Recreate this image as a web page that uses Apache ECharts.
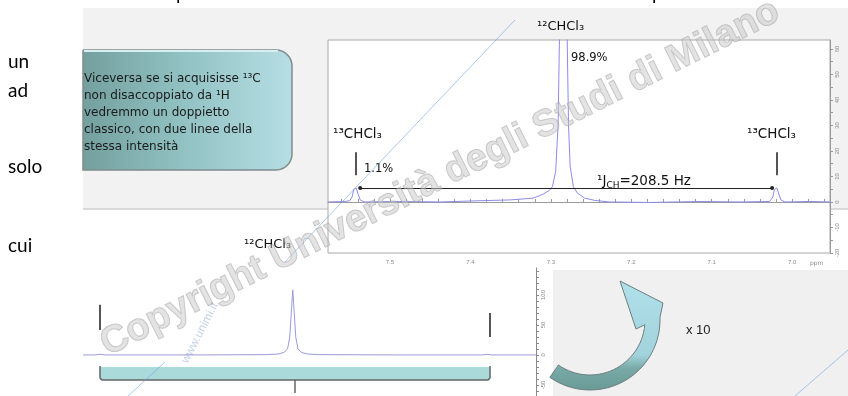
<!DOCTYPE html>
<html>
<head>
<meta charset="utf-8">
<script src="https://cdn.jsdelivr.net/npm/echarts@6/dist/echarts.min.js"></script>
<style>
  html, body { margin: 0; padding: 0; background: #ffffff; }
  #chart { width: 848px; height: 396px; }
</style>
</head>
<body>
<div id="chart"></div>
<script>
// 1H spectrum of CHCl3, vertical expansion: main 12CHCl3 line with the two 13C satellites
const topShift = [7.577, 7.556, 7.550, 7.547, 7.545, 7.542, 7.540, 7.537, 7.532, 7.488,
  7.438, 7.388, 7.351, 7.322, 7.310, 7.302, 7.298, 7.294, 7.291, 7.289,
  7.2845, 7.280, 7.278, 7.276, 7.272, 7.267, 7.258, 7.245, 7.227, 7.177,
  7.115, 7.065, 7.028, 7.024, 7.022, 7.019, 7.017, 7.014, 7.009, 6.978, 6.953];
const topIntensity = [0, 0.02, 0.05, 0.2, 0.5, 0.55, 0.35, 0.08, 0, 0.02,
  0, 0.05, 0.08, 0.15, 0.3, 0.45, 0.6, 1.2, 3, 7,
  40, 7, 3, 1.4, 0.6, 0.35, 0.15, 0.06, 0, -0.02,
  0.02, 0, 0.02, 0.2, 0.5, 0.55, 0.35, 0.08, 0, 0.02, 0];

// Same spectrum at full scale (satellites hardly visible)
const bottomShift = [7.567, 7.550, 7.544, 7.538, 7.40, 7.32, 7.305, 7.297, 7.292, 7.289,
  7.287, 7.285, 7.283, 7.281, 7.278, 7.273, 7.265, 7.25, 7.15, 7.030, 7.024, 7.018, 6.958];
const bottomIntensity = [0, 0, 0.024, 0, 0, 0.01, 0.03, 0.08, 0.2, 0.6,
  1.4, 2.17, 1.4, 0.6, 0.2, 0.08, 0.03, 0.01, 0, 0, 0.024, 0, 0];

// Axis ticks and labels
const shiftLabels = [7.5, 7.4, 7.3, 7.2, 7.1, 7.0];
const shiftTicks = [6.96, 6.98, 7.0, 7.02, 7.04, 7.06, 7.08, 7.1, 7.12, 7.14, 7.16, 7.18, 7.2,
  7.22, 7.24, 7.26, 7.28, 7.3, 7.32, 7.34, 7.36, 7.38, 7.4, 7.42, 7.44, 7.46, 7.48, 7.5,
  7.52, 7.54, 7.56];
const topIntensityLabels = [-2, -1, 0, 1, 2, 3, 4, 5, 6];
const topIntensityTicks = [-2, -1.5, -1, -0.5, 0, 0.5, 1, 1.5, 2, 2.5, 3, 3.5, 4, 4.5, 5, 5.5, 6];
const bottomIntensityLabels = [-1, 0, 1, 2];
const bottomIntensityTicks = [-1.2, -1, -0.8, -0.6, -0.4, -0.2, 0, 0.2, 0.4, 0.6, 0.8, 1, 1.2,
  1.4, 1.6, 1.8, 2, 2.2, 2.4, 2.6, 2.8];

// Satellite positions (ppm) and the coupling constant annotation
const satelliteShifts = [7.543, 7.019];
const couplingText = '=208.5 Hz';

const specColor = '#8c8ce6';
const labelFont = '"DejaVu Sans", "Liberation Sans", sans-serif';
const slideFont = 'Lato, "Open Sans", sans-serif';

const topData = topShift.map((s, i) => [s, topIntensity[i]]);
const bottomData = bottomShift.map((s, i) => [s, bottomIntensity[i]]);

// Outline of the curved "x 10" arrow: a ring segment ending in a head
function arrowOutline() {
  const cx = 590, cy = 320, ro = 70, ri = 55;
  const pts = [];
  for (let a = 125; a >= -2; a -= 4) {
    const r = a * Math.PI / 180;
    pts.push([cx + ro * Math.cos(r), cy + ro * Math.sin(r)]);
  }
  pts.push([cx + ro * Math.cos(-2 * Math.PI / 180), cy + ro * Math.sin(-2 * Math.PI / 180)]);
  pts.push([663, 303], [620, 281], [636, 329]);
  for (let a = 5; a <= 125; a += 4) {
    const r = a * Math.PI / 180;
    pts.push([cx + ri * Math.cos(r), cy + ri * Math.sin(r)]);
  }
  pts.push([cx + ri * Math.cos(125 * Math.PI / 180), cy + ri * Math.sin(125 * Math.PI / 180)]);
  return pts;
}

const chart = echarts.init(document.getElementById('chart'), null, { renderer: 'canvas' });

function txt(x, y, text, opts) {
  return {
    type: 'text', x: x, y: y, z: 20, silent: true,
    style: Object.assign({
      text: text, fill: '#111', fontSize: 11, fontFamily: labelFont,
      align: 'left', verticalAlign: 'middle'
    }, opts || {})
  };
}

const option = {
  animation: false,
  backgroundColor: '#ffffff',
  grid: [
    { left: 328, top: 40, right: 18, bottom: 143, show: true, backgroundColor: '#ffffff',
      borderColor: '#a8a8a8', borderWidth: 1 },
    { left: 83, top: 268, right: 312, bottom: 0, show: false }
  ],
  xAxis: [
    {
      gridIndex: 0, type: 'value', inverse: true, min: 6.953, max: 7.577,
      axisLine: { show: true, lineStyle: { color: '#9a9a9a', width: 1 } },
      axisTick: { show: true, inside: true, length: 3, customValues: shiftTicks,
        lineStyle: { color: '#9a9a9a' } },
      axisLabel: { show: true, customValues: shiftLabels, fontSize: 6, color: '#8a8a8a',
        margin: 6, formatter: v => v.toFixed(1) },
      splitLine: { show: false }
    },
    {
      gridIndex: 1, type: 'value', inverse: true, min: 6.958, max: 7.567, show: false
    }
  ],
  yAxis: [
    {
      gridIndex: 0, type: 'value', position: 'right', min: -2, max: 6.35,
      axisLine: { show: true, lineStyle: { color: '#9a9a9a' } },
      axisTick: { show: true, length: 3, customValues: topIntensityTicks,
        lineStyle: { color: '#9a9a9a' } },
      axisLabel: { show: true, customValues: topIntensityLabels, fontSize: 6, color: '#8a8a8a',
        rotate: 90, margin: 4, formatter: v => String(v * 10) },
      splitLine: { show: false }
    },
    {
      gridIndex: 1, type: 'value', position: 'right', min: -1.37, max: 2.9,
      axisLine: { show: true, lineStyle: { color: '#8a8a8a' } },
      axisTick: { show: true, length: 3, customValues: bottomIntensityTicks,
        lineStyle: { color: '#8a8a8a' } },
      axisLabel: { show: true, customValues: bottomIntensityLabels, fontSize: 6, color: '#8a8a8a',
        rotate: 90, margin: 4, formatter: v => String(v * 50) },
      splitLine: { show: false }
    }
  ],
  series: [
    {
      type: 'line', xAxisIndex: 0, yAxisIndex: 0, data: topData, showSymbol: false,
      clip: true, z: 3,
      lineStyle: { color: specColor, width: 1 },
      markLine: {
        silent: true, symbol: 'none', animation: false,
        label: { show: false },
        lineStyle: { color: '#555555', width: 2, type: 'solid' },
        data: [
          [{ coord: [satelliteShifts[0], 1.05] }, { coord: [satelliteShifts[0], 1.95] }],
          [{ coord: [satelliteShifts[1], 1.05] }, { coord: [satelliteShifts[1], 1.95] }],
          [
            { coord: [7.537, 0.55], symbol: 'circle', symbolSize: 4,
              lineStyle: { color: '#222222', width: 1, type: 'solid' } },
            { coord: [7.025, 0.55], symbol: 'circle', symbolSize: 4 }
          ]
        ]
      }
    },
    {
      type: 'line', xAxisIndex: 1, yAxisIndex: 1, data: bottomData, showSymbol: false,
      clip: true, z: 3,
      lineStyle: { color: '#9a9ad6', width: 1 },
      markLine: {
        silent: true, symbol: 'none', animation: false,
        label: { show: false },
        lineStyle: { color: '#555555', width: 2, type: 'solid' },
        data: [
          [{ coord: [7.544, 0.83] }, { coord: [7.544, 1.67] }],
          [{ coord: [7.020, 0.6] }, { coord: [7.020, 1.4] }]
        ]
      }
    }
  ],
  graphic: {
    elements: [
      // slide panels
      { type: 'rect', z: -2, silent: true, shape: { x: 83, y: 8, width: 765, height: 201 },
        style: { fill: '#f2f2f2' } },
      { type: 'line', z: -1, silent: true, shape: { x1: 83, y1: 209, x2: 848, y2: 209 },
        style: { stroke: '#cfcfcf', lineWidth: 1.5 } },
      { type: 'rect', z: -2, silent: true, shape: { x: 553, y: 270, width: 295, height: 126 },
        style: { fill: '#f0f0f0' } },

      // fragments of the running text on the left
      txt(8, 62, 'un', { fontSize: 19, fontFamily: slideFont, fill: '#000' }),
      txt(8, 91, 'ad', { fontSize: 19, fontFamily: slideFont, fill: '#000' }),
      txt(8, 167, 'solo', { fontSize: 19, fontFamily: slideFont, fill: '#000' }),
      txt(8, 246, 'cui', { fontSize: 19, fontFamily: slideFont, fill: '#000' }),
      txt(176, -6, 'p', { fontSize: 19, fontFamily: slideFont, fill: '#000' }),
      txt(652, -6, 'p', { fontSize: 19, fontFamily: slideFont, fill: '#000' }),

      // explanatory callout
      { type: 'rect', z: 5, silent: true,
        shape: { x: 83, y: 50, width: 209, height: 120, r: [0, 16, 16, 0] },
        style: {
          fill: { type: 'linear', x: 0, y: 0, x2: 1, y2: 0, colorStops: [
            { offset: 0, color: '#73a09e' }, { offset: 0.5, color: '#93c3c4' },
            { offset: 1, color: '#b6dee4' } ] },
          stroke: '#7f8c8c', lineWidth: 1.5
        } },
      { type: 'line', z: 6, silent: true, shape: { x1: 84, y1: 51, x2: 278, y2: 51 },
        style: { stroke: '#d9eef0', lineWidth: 2 } },
      txt(84, 70, 'Viceversa se si acquisisse ¹³C\nnon disaccoppiato da ¹H\nvedremmo un doppietto\nclassico, con due linee della\nstessa intensità',
        { fontSize: 12, lineHeight: 17, verticalAlign: 'top', fill: '#1a1a1a',
          fontFamily: '"DejaVu Sans", Verdana, sans-serif' }),

      // spectrum annotations
      txt(537, 27, '¹²CHCl₃', { fontSize: 13 }),
      txt(571, 58, '98.9%', { fontSize: 11.5 }),
      txt(333, 134, '¹³CHCl₃', { fontSize: 13.5 }),
      txt(747, 134, '¹³CHCl₃', { fontSize: 13.5 }),
      txt(364, 169, '1.1%', { fontSize: 11.5 }),
      { type: 'text', x: 597, y: 181, z: 20, silent: true,
        style: { text: '¹J{sub|CH}' + couplingText, fill: '#111', fontSize: 13.5,
          fontFamily: labelFont, lineHeight: 18,
          align: 'left', verticalAlign: 'middle',
          rich: { sub: { fontSize: 9, lineHeight: 9, verticalAlign: 'bottom',
            fontFamily: labelFont, fill: '#111' } } } },
      txt(810, 263, 'ppm', { fontSize: 6, fill: '#8a8a8a' }),
      txt(244, 245, '¹²CHCl₃', { fontSize: 13 }),

      // bracket under the full-scale spectrum
      { type: 'rect', z: 5, silent: true, shape: { x: 100, y: 367, width: 390, height: 13 },
        style: { fill: '#abdada' } },
      { type: 'polyline', z: 6, silent: true,
        shape: { points: [[100, 366], [100, 378], [102, 380], [488, 380], [490, 378], [490, 366]] },
        style: { stroke: '#666666', lineWidth: 1.5, fill: null } },
      { type: 'line', z: 6, silent: true, shape: { x1: 295, y1: 380, x2: 295, y2: 393 },
        style: { stroke: '#666666', lineWidth: 1.5 } },

      // curved arrow and magnification factor
      { type: 'polygon', z: 8, silent: true,
        shape: { points: arrowOutline() },
        style: {
          fill: { type: 'linear', x: 0, y: 0, x2: 0, y2: 1, colorStops: [
            { offset: 0, color: '#b0e0ea' }, { offset: 0.68, color: '#a2d2dc' },
            { offset: 0.8, color: '#78a9a6' }, { offset: 1, color: '#6a9a96' } ] },
          stroke: '#6b7f80', lineWidth: 1
        } },
      txt(686, 330, 'x 10', { fontSize: 13, fill: '#222', fontFamily: '"Liberation Sans", sans-serif' }),

      // faint diagonal strokes
      { type: 'line', z: 30, silent: true, shape: { x1: 285, y1: 262, x2: 515, y2: 20 },
        style: { stroke: 'rgba(110,165,230,0.6)', lineWidth: 1 } },
      { type: 'line', z: 30, silent: true, shape: { x1: 128, y1: 396, x2: 165, y2: 362 },
        style: { stroke: 'rgba(110,165,230,0.6)', lineWidth: 1 } },
      { type: 'line', z: 30, silent: true, shape: { x1: 795, y1: 396, x2: 848, y2: 350 },
        style: { stroke: 'rgba(110,165,230,0.6)', lineWidth: 1 } },

      // copyright watermark
      { type: 'text', x: 440, y: 178, rotation: 0.464, z: 40, silent: true,
        style: { text: 'Copyright Università degli Studi di Milano',
          fontSize: 38, fontWeight: 'bold', fontFamily: '"Liberation Sans", Arial, sans-serif',
          fill: 'rgba(200,200,200,0.5)', stroke: 'rgba(145,145,145,0.5)', lineWidth: 1,
          align: 'center', verticalAlign: 'middle' } },
      { type: 'text', x: 200, y: 333, rotation: 1.09, z: 40, silent: true,
        style: { text: 'www.unimi.it', fontSize: 12, fontFamily: '"Liberation Sans", sans-serif',
          fill: 'rgba(120,150,205,0.45)', align: 'center', verticalAlign: 'middle' } }
    ]
  }
};

chart.setOption(option);
</script>
</body>
</html>
